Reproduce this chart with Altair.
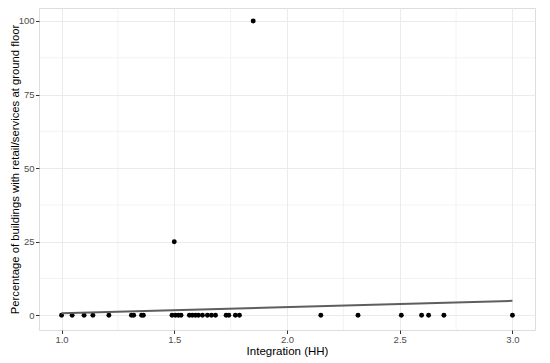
import altair as alt
import pandas as pd

# Scatter data (Integration HH vs % buildings with retail/services at ground floor)
x_vals = [1.00, 1.047, 1.10, 1.139, 1.21, 1.31, 1.32, 1.355, 1.363, 1.49, 1.505,
          1.518, 1.53, 1.567, 1.58, 1.594, 1.607, 1.625, 1.647, 1.665, 1.683,
          1.73, 1.742, 1.771, 1.789, 2.15, 2.315, 2.507, 2.597, 2.628, 2.696,
          3.00, 1.50, 1.85]
y_vals = [0] * 32 + [25, 100]

# Fitted linear trend
fit_x = [1.0, 3.0]
fit_y = [0.7, 4.9]

x_ticks = [1.0, 1.5, 2.0, 2.5, 3.0]
y_ticks = [0, 25, 50, 75, 100]
x_minor = [1.25, 1.75, 2.25, 2.75]
y_minor = [12.5, 37.5, 62.5, 87.5]

pts = pd.DataFrame({"x": x_vals, "y": y_vals})
fit = pd.DataFrame({"x": fit_x, "y": fit_y})
xm = pd.DataFrame({"x": x_minor})
ym = pd.DataFrame({"y": y_minor})

xs = alt.Scale(domain=[0.9, 3.1], nice=False, zero=False)
ys = alt.Scale(domain=[-5, 104.4], nice=False, zero=False)

FONT = "Liberation Sans"

xaxis = alt.Axis(values=x_ticks, format=".1f", title="Integration (HH)",
                 grid=True, gridColor="#ebebeb", gridWidth=1,
                 domain=False, tickColor="#333333", tickSize=3.5, tickWidth=1,
                 labelColor="#4d4d4d", labelFontSize=9.5, labelFont=FONT,
                 labelPadding=0.5, titleFont=FONT, titleFontSize=11.5,
                 titleFontWeight="normal", titleColor="#000000", titlePadding=1.5)
yaxis = alt.Axis(values=y_ticks, format="d",
                 title="Percentage of buildings with retail/services at ground floor",
                 grid=True, gridColor="#ebebeb", gridWidth=1,
                 domain=False, tickColor="#333333", tickSize=3.5, tickWidth=1,
                 labelColor="#4d4d4d", labelFontSize=9.5, labelFont=FONT,
                 labelPadding=1.5, titleFont=FONT, titleFontSize=11.3,
                 titleFontWeight="normal", titleColor="#000000", titlePadding=-2)

X = lambda: alt.X("x:Q", scale=xs, axis=xaxis)
Y = lambda: alt.Y("y:Q", scale=ys, axis=yaxis)

minor_x = alt.Chart(xm).mark_rule(color="#ebebeb", strokeWidth=0.6).encode(x=X())
minor_y = alt.Chart(ym).mark_rule(color="#ebebeb", strokeWidth=0.6).encode(y=Y())

points = alt.Chart(pts).mark_circle(size=24, color="black", opacity=1).encode(
    x=X(), y=Y())

line = alt.Chart(fit).mark_line(color="#5e5e5e", strokeWidth=2).encode(
    x=X(), y=Y())

chart = alt.layer(minor_x, minor_y, points, line).properties(
    width=496, height=322,
    autosize=alt.AutoSizeParams(type="none"),
    padding={"left": 31, "top": 0, "right": 6, "bottom": 33},
).configure_view(stroke="#333333", strokeWidth=1).configure(background="white")

chart.save("out.html", embed_options={"renderer": "svg", "actions": False})
